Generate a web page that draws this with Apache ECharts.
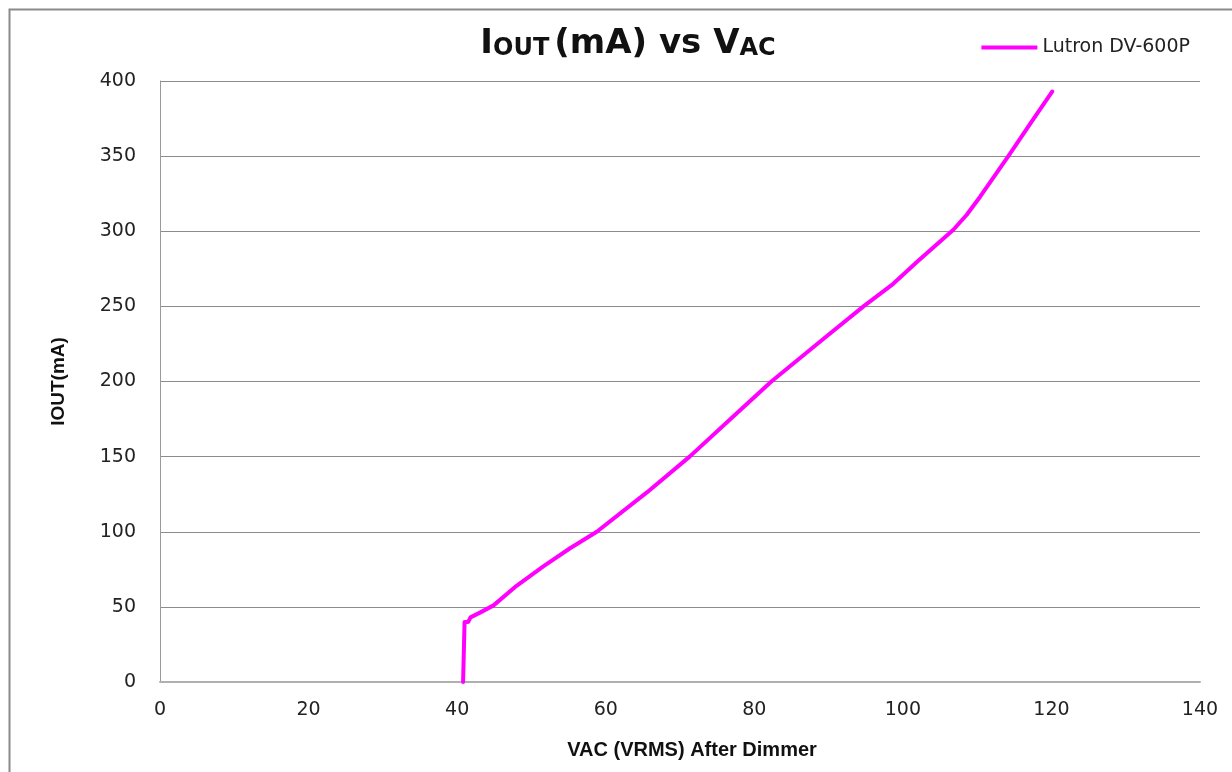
<!DOCTYPE html>
<html>
<head>
<meta charset="utf-8">
<script src="https://cdn.jsdelivr.net/npm/echarts@6/dist/echarts.min.js"></script>
<style>html,body{margin:0;padding:0;background:#fff;}#c{width:1232px;height:772px;}</style>
</head>
<body>
<div id="c"></div>
<script>
var seriesName = 'Lutron DV-600P';
var vac = [40.8, 41.0, 41.5, 41.8, 43.2, 44.9, 48.0, 51.6, 55.2, 58.8, 65.5, 71.3, 76.8, 82.3, 86.0, 89.7, 94.7, 98.7, 102.0, 105.2, 106.8, 108.6, 110.4, 114.2, 117.2, 120.1];
var iout = [0, 40, 40, 43, 46.5, 51, 64, 77, 89, 100, 126, 150, 175, 200, 215, 230, 250, 265, 280, 294, 301, 311, 323, 350, 372, 393];
var xTicks = [0, 20, 40, 60, 80, 100, 120, 140];
var yTicks = [0, 50, 100, 150, 200, 250, 300, 350, 400];

var data = vac.map(function (v, i) { return [v, iout[i]]; });
var chart = echarts.init(document.getElementById('c'), null, {renderer: 'canvas'});
var labelFont = 'DejaVu Sans, Verdana, sans-serif';
var narrowFont = 'Liberation Sans Narrow, Arial Narrow, sans-serif';
chart.setOption({
  backgroundColor: '#fff',
  animation: false,
  graphic: [{
    type: 'rect', left: 7, top: 7, z: 100,
    shape: {width: 1300, height: 900},
    style: {fill: 'none', stroke: '#8a8a8a', lineWidth: 2}
  }],
  title: {
    text: '{a|I}{b|OUT} {a|(mA) vs V}{b|AC}',
    left: 623, top: 22, textAlign: 'center',
    textStyle: {
      rich: {
        a: {fontFamily: labelFont, fontWeight: 'bold', fontSize: 34, color: '#111'},
        b: {fontFamily: labelFont, fontWeight: 'bold', fontSize: 24, color: '#111', verticalAlign: 'bottom'}
      }
    }
  },
  legend: {
    right: 37, top: 33,
    itemWidth: 56, itemHeight: 4, itemGap: 6,
    icon: 'rect',
    textStyle: {fontFamily: labelFont, fontSize: 19, color: '#222'},
    data: [seriesName]
  },
  grid: {left: 160, right: 32, top: 81, bottom: 90, containLabel: false},
  xAxis: {
    type: 'value', min: 0, max: 140, interval: 20,
    name: 'VAC (VRMS) After Dimmer',
    nameLocation: 'middle', nameGap: 58,
    nameTextStyle: {fontFamily: narrowFont, fontWeight: 'bold', fontSize: 20, color: '#111', padding: [0, 0, 0, 24]},
    axisLine: {show: true, lineStyle: {color: '#b0b0b0', width: 2}},
    axisTick: {show: false},
    splitLine: {show: false},
    axisLabel: {fontFamily: labelFont, fontSize: 19, color: '#222', margin: 19,
      formatter: function (v) { return xTicks.indexOf(v) >= 0 ? String(v) : ''; }}
  },
  yAxis: {
    type: 'value', min: 0, max: 400, interval: 50,
    name: 'IOUT(mA)',
    nameLocation: 'middle', nameGap: 92, nameRotate: 90,
    nameTextStyle: {fontFamily: narrowFont, fontWeight: 'bold', fontSize: 19, color: '#111'},
    axisLine: {show: true, lineStyle: {color: '#9a9a9a', width: 1}},
    axisTick: {show: false},
    splitLine: {show: true, lineStyle: {color: '#8c8c8c', width: 1}},
    axisLabel: {fontFamily: labelFont, fontSize: 19, color: '#222', margin: 24,
      formatter: function (v) { return yTicks.indexOf(v) >= 0 ? String(v) : ''; }}
  },
  series: [{
    name: seriesName,
    type: 'line',
    data: data,
    smooth: false,
    showSymbol: false,
    symbol: 'none',
    lineStyle: {color: '#ff00ff', width: 4, cap: 'round', join: 'round'},
    itemStyle: {color: '#ff00ff'}
  }]
});
</script>
</body>
</html>
